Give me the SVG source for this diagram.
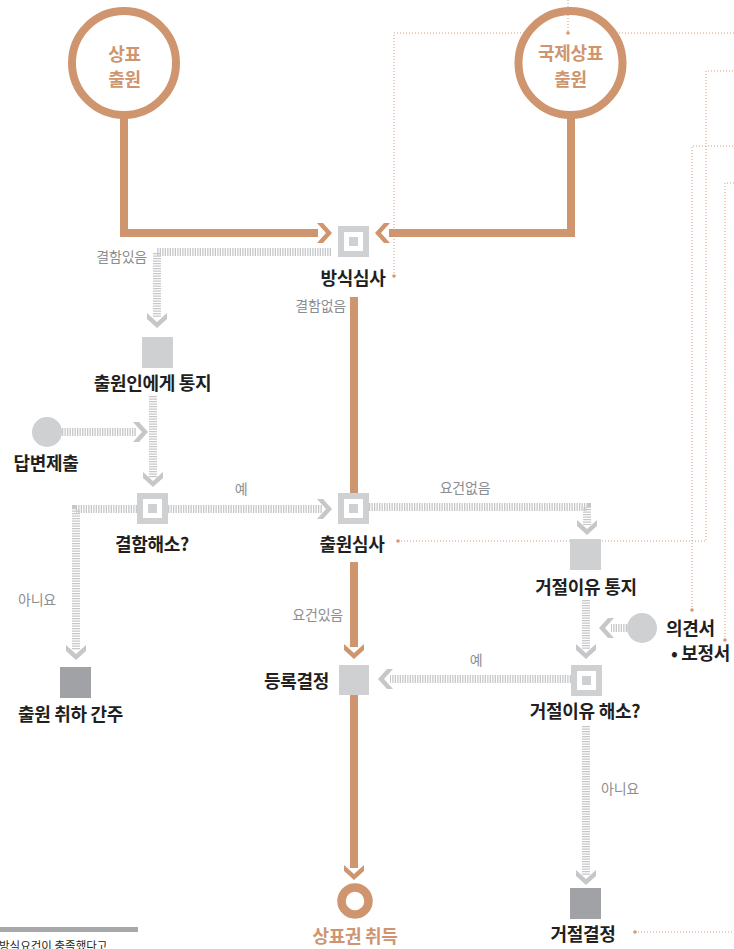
<svg xmlns="http://www.w3.org/2000/svg" xmlns:xlink="http://www.w3.org/1999/xlink" width="734" height="949" viewBox="0 0 734 949">
<style>
  .thick{fill:none;stroke:#cf956f;stroke-width:8;stroke-linejoin:miter}
  .dots{fill:none;stroke:#c6c7c9;stroke-width:8;stroke-dasharray:1.3 1.2}
  .thin{fill:none;stroke:#d69a74;stroke-width:1;stroke-dasharray:1 2}
  .dot{fill:#d69a74}
  .cho{fill:#cf956f}
  .chg{fill:#c6c7c9}
  .box{fill:#cfd0d2}
  .dark{fill:#a1a2a6}
  .ring{fill:#fff;stroke:#cf956f;stroke-width:8}
  .gc{fill:#cfd0d2}
  .t{font-family:"Noto Sans CJK KR","Noto Sans",sans-serif;font-weight:700;font-size:18px;fill:#231f20;letter-spacing:-0.3px}
  .to{font-family:"Noto Sans CJK KR","Noto Sans",sans-serif;font-weight:700;font-size:18px;fill:#cf956f;letter-spacing:-0.3px}
  .lbl{font-family:"Noto Sans CJK KR","Noto Sans",sans-serif;font-weight:400;font-size:14px;fill:#8c8d90;letter-spacing:-0.2px}
  .c{text-anchor:middle}
  .e{text-anchor:end}
</style>
<defs>
  <polygon id="chev" points="-15,-10 -9,-10 0,0 -9,10 -15,10 -6,0"/>
  <g id="dec">
    <rect x="-15.5" y="-15.5" width="31" height="31" fill="#cfd0d2"/>
    <rect x="-9.5" y="-9.5" width="19" height="19" fill="#fff"/>
    <rect x="-4.5" y="-4.5" width="9" height="9" fill="#cfd0d2"/>
  </g>
</defs>

<g id="connectors">
  <path class="thin" d="M394,276 V33 H734"/>
  <path class="thin" d="M398,541 H706 V71 H734"/>
  <path class="thin" d="M692,610 V146 H734"/>
  <path class="thin" d="M725,640 V183 H734"/>
  <path class="thin" d="M635,932 H734"/>
  <circle class="dot" cx="394" cy="276" r="1.8"/>
  <circle class="dot" cx="398" cy="541" r="1.8"/>
  <circle class="dot" cx="692" cy="610" r="1.8"/>
  <circle class="dot" cx="725" cy="640" r="1.8"/>
  <circle class="dot" cx="635" cy="932" r="1.8"/>

  <path class="thick" d="M124,118 V233 H318"/>
  <use xlink:href="#chev" class="cho" transform="translate(332,233)"/>
  <path class="thick" d="M571,118 V233 H389"/>
  <use xlink:href="#chev" class="cho" transform="translate(375,233) rotate(180)"/>
  <path class="thick" d="M354,297 V493"/>
  <path class="thick" d="M354,562 V647"/>
  <use xlink:href="#chev" class="cho" transform="translate(354,659) rotate(90)"/>
  <path class="thick" d="M354,695 V868"/>
  <use xlink:href="#chev" class="cho" transform="translate(354,880) rotate(90)"/>

  <path class="dots" d="M331,252 H157 V318"/>
  <use xlink:href="#chev" class="chg" transform="translate(157,328) rotate(90)"/>
  <path class="dots" d="M153,396 V478"/>
  <use xlink:href="#chev" class="chg" transform="translate(153,487) rotate(90)"/>
  <path class="dots" d="M62,432 H136"/>
  <use xlink:href="#chev" class="chg" transform="translate(148,432)"/>
  <path class="dots" d="M168,509 H322"/>
  <use xlink:href="#chev" class="chg" transform="translate(332,509)"/>
  <path class="dots" d="M137,509 H76 V650"/>
  <use xlink:href="#chev" class="chg" transform="translate(76,660) rotate(90)"/>
  <path class="dots" d="M369,507 H587 V525"/>
  <use xlink:href="#chev" class="chg" transform="translate(587,535) rotate(90)"/>
  <path class="dots" d="M586,600 V650"/>
  <use xlink:href="#chev" class="chg" transform="translate(586,659) rotate(90)"/>
  <path class="dots" d="M627,628 H611"/>
  <use xlink:href="#chev" class="chg" transform="translate(599,628) rotate(180)"/>
  <path class="dots" d="M571,679 H390"/>
  <use xlink:href="#chev" class="chg" transform="translate(378,679) rotate(180)"/>
  <path class="dots" d="M586,726 V875"/>
  <use xlink:href="#chev" class="chg" transform="translate(586,885) rotate(90)"/>

  <text class="lbl e" x="147" y="262">결함있음</text>
  <text class="lbl e" x="346" y="311">결함없음</text>
  <text class="lbl c" x="241" y="494">예</text>
  <text class="lbl c" x="465" y="493">요건없음</text>
  <text class="lbl" x="18" y="605">아니요</text>
  <text class="lbl e" x="343" y="620">요건있음</text>
  <text class="lbl c" x="476" y="665">예</text>
  <text class="lbl" x="601" y="794">아니요</text>
</g>

<g id="n-trademark-app">
  <circle class="ring" cx="124" cy="63" r="52"/>
  <text class="to c" x="124.5" y="61">상표</text>
  <text class="to c" x="124.5" y="86">출원</text>
</g>

<g id="n-intl-app">
  <circle class="ring" cx="570.5" cy="63" r="52"/>
  <text class="to c" x="570.5" y="60">국제상표</text>
  <text class="to c" x="570.5" y="86">출원</text>
  <path class="thin" d="M568,0 V33"/>
  <circle class="dot" cx="568" cy="33" r="1.8"/>
</g>

<g id="n-formality">
  <use xlink:href="#dec" transform="translate(353.5,241.5)"/>
  <text class="t c" x="353" y="285">방식심사</text>
</g>

<g id="n-notify">
  <rect class="box" x="142" y="337" width="31" height="31"/>
  <text class="t c" x="152.5" y="390">출원인에게 통지</text>
</g>

<g id="n-response">
  <circle class="gc" cx="47" cy="432" r="15"/>
  <text class="t c" x="46" y="470">답변제출</text>
</g>

<g id="n-resolved">
  <use xlink:href="#dec" transform="translate(152.5,508.5)"/>
  <text class="t c" x="152" y="551">결함해소?</text>
</g>

<g id="n-withdrawn">
  <rect class="dark" x="60" y="667" width="31" height="31"/>
  <text class="t c" x="70.5" y="721">출원 취하 간주</text>
</g>

<g id="n-exam">
  <use xlink:href="#dec" transform="translate(353.5,508.5)"/>
  <text class="t c" x="352" y="551">출원심사</text>
</g>

<g id="n-refusal-notice">
  <rect class="box" x="570" y="539" width="31" height="31"/>
  <text class="t c" x="586" y="594">거절이유 통지</text>
</g>

<g id="n-opinion">
  <circle class="gc" cx="642" cy="628" r="15"/>
  <text class="t" x="666" y="635">의견서</text>
  <text class="t" x="671" y="660">• 보정서</text>
</g>

<g id="n-refusal-resolved">
  <use xlink:href="#dec" transform="translate(586.5,680.5)"/>
  <text class="t c" x="585" y="718">거절이유 해소?</text>
</g>

<g id="n-registration">
  <rect class="box" x="339" y="665" width="30" height="30"/>
  <text class="t e" x="329" y="688">등록결정</text>
</g>

<g id="n-acquire">
  <circle cx="355" cy="901" r="13.5" fill="#fff" stroke="#cf956f" stroke-width="8.5"/>
  <text class="to c" x="355" y="943">상표권 취득</text>
</g>

<g id="n-refusal">
  <rect class="dark" x="570" y="888" width="31" height="31"/>
  <text class="t c" x="583" y="941">거절결정</text>
</g>

<g id="footnote">
  <rect x="0" y="927" width="138" height="5" fill="#a7a8aa"/>
  <text x="-1" y="950" font-family="Noto Sans CJK KR, sans-serif" font-size="11.5" fill="#231f20">방식요건이 충족했다고</text>
</g>
</svg>
